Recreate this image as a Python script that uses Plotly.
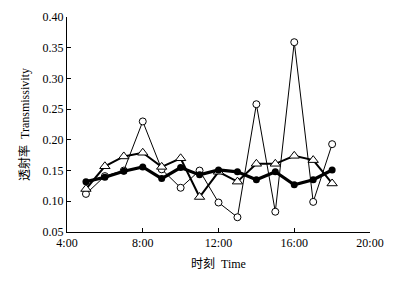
import plotly.graph_objects as go

hours = [5, 6, 7, 8, 9, 10, 11, 12, 13, 14, 15, 16, 17, 18]
open_circle = [0.112, 0.141, 0.150, 0.230, 0.152, 0.122, 0.150, 0.098, 0.074, 0.258, 0.083, 0.359, 0.099, 0.193]
open_triangle = [0.120, 0.157, 0.173, 0.179, 0.156, 0.170, 0.107, 0.148, 0.132, 0.161, 0.161, 0.174, 0.167, 0.129]
filled_circle = [0.132, 0.139, 0.149, 0.156, 0.137, 0.155, 0.143, 0.151, 0.148, 0.135, 0.148, 0.127, 0.135, 0.151]
x_tickvals = [4, 8, 12, 16, 20]
x_ticktext = ["4:00", "8:00", "12:00", "16:00", "20:00"]

fig = go.Figure()
fig.add_trace(go.Scatter(
    x=hours, y=open_circle, mode="lines+markers",
    line=dict(color="black", width=1),
    marker=dict(symbol="circle", size=7, color="white", line=dict(color="black", width=1)),
    showlegend=False, cliponaxis=False))
fig.add_trace(go.Scatter(
    x=hours, y=open_triangle, mode="lines+markers",
    line=dict(color="black", width=2),
    marker=dict(symbol="triangle-up", size=9, color="white", line=dict(color="black", width=1)),
    showlegend=False, cliponaxis=False))
fig.add_trace(go.Scatter(
    x=hours, y=filled_circle, mode="lines+markers",
    line=dict(color="black", width=3.2),
    marker=dict(symbol="circle", size=7, color="black"),
    showlegend=False, cliponaxis=False))

serif = "Liberation Serif, Times New Roman, Noto Sans CJK SC, serif"
fig.update_layout(
    width=385, height=274,
    margin=dict(l=59, r=23, t=9, b=50),
    paper_bgcolor="white", plot_bgcolor="white",
    font=dict(family=serif, size=12, color="black"),
    xaxis=dict(range=[4, 20], tickvals=x_tickvals, ticktext=x_ticktext,
               showline=True, linecolor="black", linewidth=1,
               ticks="inside", ticklen=4, tickcolor="black",
               showgrid=False, zeroline=False, automargin=False,
               ticklabeloverflow="allow",
               title=dict(text="时刻  Time", standoff=10, font=dict(size=12)),
               tickfont=dict(size=12)),
    yaxis=dict(range=[0.05, 0.40], dtick=0.05, tick0=0.05, tickformat=".2f",
               showline=True, linecolor="black", linewidth=1,
               ticks="inside", ticklen=4, tickcolor="black",
               showgrid=False, zeroline=False, automargin=False,
               title=dict(text="透射率  Transmissivity", standoff=10, font=dict(size=12)),
               tickfont=dict(size=12)),
)
fig.write_html("out.html")
